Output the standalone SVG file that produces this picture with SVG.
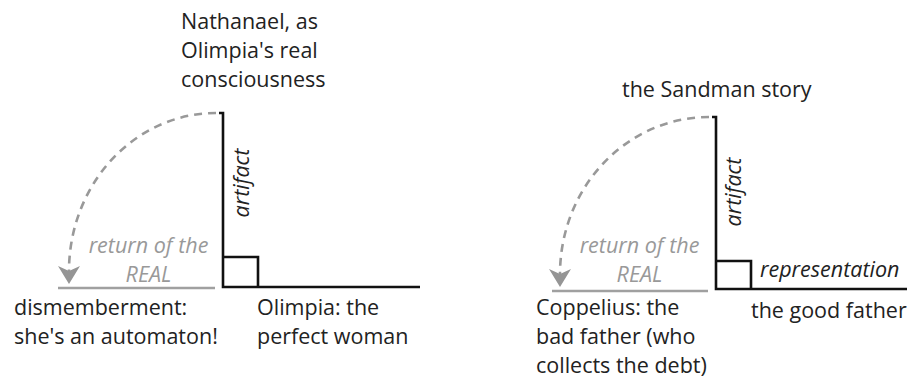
<svg xmlns="http://www.w3.org/2000/svg" width="907" height="378" viewBox="0 0 907 378">
  <style>
    .lbl { font-family: "Open Sans", "Liberation Sans", sans-serif; font-size: 21.5px; fill: #222; }
    .it { font-style: italic; }
    .gray { fill: #999; }
    .axis { fill: none; stroke: #111; stroke-width: 2.6; }
    .real { fill: none; stroke: #a0a0a0; stroke-width: 2.6; }
    .ret { fill: none; stroke: #999; stroke-width: 2.6; stroke-dasharray: 8 6; }
  </style>
  <defs>
    <marker id="head" viewBox="0 0 18 22" refX="5" refY="11" markerWidth="18" markerHeight="22" markerUnits="userSpaceOnUse" orient="auto">
      <path d="M0,0 L18,11 L0,22 L5,11 Z" fill="#959595"/>
    </marker>
  </defs>

  <!-- left figure: Olimpia -->
  <g id="left-axes">
    <path class="axis" d="M219,113 H223 V287 H420"/>
    <path class="axis" d="M223,257 H258 V287"/>
    <text class="lbl it" transform="translate(249,183) rotate(-90)" text-anchor="middle">artifact</text>
  </g>
  <g id="left-top">
    <text class="lbl" x="181" y="29">Nathanael, as</text>
    <text class="lbl" x="181" y="58">Olimpia's real</text>
    <text class="lbl" x="181" y="87">consciousness</text>
  </g>
  <g id="left-real">
    <path class="real" d="M58,288 H215"/>
    <text class="lbl it gray" x="148.5" y="253" text-anchor="middle">return of the</text>
    <text class="lbl it gray" x="148.5" y="282" text-anchor="middle">REAL</text>
  </g>
  <g id="left-dismember">
    <text class="lbl" x="14" y="315">dismemberment:</text>
    <text class="lbl" x="14" y="344">she's an automaton!</text>
  </g>
  <g id="left-olimpia">
    <text class="lbl" x="257" y="315">Olimpia: the</text>
    <text class="lbl" x="257" y="344">perfect woman</text>
  </g>

  <!-- right figure: the Sandman -->
  <g id="right-axes">
    <path class="axis" d="M712,117 H716 V289 H907"/>
    <path class="axis" d="M716,261 H751 V289"/>
    <text class="lbl it" transform="translate(741,192) rotate(-90)" text-anchor="middle">artifact</text>
    <text class="lbl it" x="760" y="277">representation</text>
  </g>
  <g id="right-top">
    <text class="lbl" x="622" y="97">the Sandman story</text>
  </g>
  <g id="right-real">
    <path class="real" d="M552,291 H708"/>
    <text class="lbl it gray" x="639.5" y="253" text-anchor="middle">return of the</text>
    <text class="lbl it gray" x="639.5" y="282" text-anchor="middle">REAL</text>
  </g>
  <g id="right-coppelius">
    <text class="lbl" x="536" y="315">Coppelius: the</text>
    <text class="lbl" x="536" y="344">bad father (who</text>
    <text class="lbl" x="536" y="373">collects the debt)</text>
  </g>
  <g id="right-father">
    <text class="lbl" x="751" y="318">the good father</text>
  </g>

  <!-- dashed return arcs -->
  <g id="connectors">
    <path class="ret" d="M216,113 A147,158 0 0 0 69,271" marker-end="url(#head)"/>
    <path class="ret" d="M709,117 A149,157 0 0 0 560,274" marker-end="url(#head)"/>
  </g>
</svg>
